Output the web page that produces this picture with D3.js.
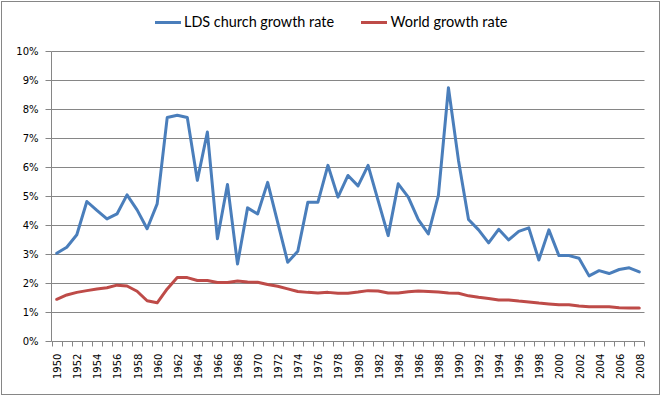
<!DOCTYPE html>
<html>
<head>
<meta charset="utf-8">
<script src="https://cdn.jsdelivr.net/npm/d3@7"></script>
<style>
html,body{margin:0;padding:0;background:#fff;}
svg{display:block;}
</style>
</head>
<body>
<svg id="chart" width="661" height="397"></svg>
<script>
const years = d3.range(1950, 2009);
const ldsGrowth = [
  3.02, 3.23, 3.66, 4.81, 4.50, 4.21, 4.38, 5.04, 4.52, 3.87,
  4.73, 7.71, 7.79, 7.71, 5.54, 7.21, 3.52, 5.40, 2.65, 4.59,
  4.38, 5.47, 4.09, 2.71, 3.09, 4.78, 4.78, 6.06, 4.96, 5.71,
  5.35, 6.06, 4.84, 3.63, 5.42, 4.96, 4.18, 3.69, 5.02, 8.74,
  6.23, 4.19, 3.83, 3.38, 3.85, 3.48, 3.78, 3.90, 2.79, 3.83,
  2.94, 2.94, 2.85, 2.24, 2.42, 2.32, 2.46, 2.52, 2.38
];
const worldGrowth = [
  1.43, 1.58, 1.67, 1.73, 1.79, 1.83, 1.92, 1.89, 1.71, 1.38,
  1.31, 1.79, 2.18, 2.18, 2.08, 2.08, 2.01, 2.01, 2.06, 2.03,
  2.02, 1.94, 1.88, 1.79, 1.70, 1.67, 1.65, 1.67, 1.64, 1.64,
  1.68, 1.73, 1.72, 1.65, 1.65, 1.69, 1.72, 1.70, 1.68, 1.65,
  1.64, 1.55, 1.50, 1.46, 1.41, 1.41, 1.37, 1.34, 1.30, 1.27,
  1.24, 1.24, 1.20, 1.17, 1.17, 1.17, 1.14, 1.13, 1.13
];
const yTicks = [0,1,2,3,4,5,6,7,8,9,10];
const xLabelYears = years.filter(y => (y - 1950) % 2 === 0);
const seriesNames = ["LDS church growth rate", "World growth rate"];
const seriesColors = ["#4A7EBB", "#BE4B48"];

const svg = d3.select("#chart");

// outer border
svg.append("rect").attr("x",1.5).attr("y",1.5).attr("width",658).attr("height",393)
  .attr("fill","#fff").attr("stroke","#868686").attr("stroke-width",1);

const x = d3.scaleBand().domain(years).range([51.7, 644.3]).padding(0);
const y = d3.scaleLinear().domain([0, 10]).range([340.7, 51.3]);
const cx = d => x(d) + x.bandwidth()/2;
const px = v => Math.round(v) + 0.5;

const gridColor = "#868686";

// gridlines
svg.append("g").selectAll("line").data(yTicks.slice(1)).join("line")
  .attr("x1", 51.5).attr("x2", 644.5)
  .attr("y1", d => px(y(d))).attr("y2", d => px(y(d)))
  .attr("stroke", gridColor).attr("stroke-width", 1);

// y axis
const yAxis = d3.axisLeft(y).tickValues(yTicks).tickSize(6).tickPadding(7)
  .tickFormat(d => d + "%");
const gy = svg.append("g").attr("transform","translate(51.5,0)").call(yAxis);
gy.select(".domain").attr("stroke", gridColor).attr("d", `M0,${px(y(10))}V${px(y(0))}`);
gy.selectAll(".tick").attr("transform", d => `translate(0,${px(y(d))})`);
gy.selectAll(".tick line").attr("stroke", gridColor);
gy.selectAll(".tick text").attr("font-family","DejaVu Sans").attr("font-size","10px").attr("fill","#000");

// x axis line
svg.append("line").attr("x1",51.5).attr("x2",644.5).attr("y1",px(y(0))).attr("y2",px(y(0)))
  .attr("stroke",gridColor);
// boundary ticks
const bounds = years.map(d => x(d)).concat([x.range()[1]]);
svg.append("g").selectAll("line").data(bounds).join("line")
  .attr("x1", d => px(d)).attr("x2", d => px(d))
  .attr("y1", px(y(0))).attr("y2", px(y(0)) + 5)
  .attr("stroke", gridColor);
// x labels
svg.append("g").selectAll("text").data(xLabelYears).join("text")
  .attr("transform", d => `translate(${cx(d)+1},379) rotate(-90)`)
  .attr("dy","0.35em")
  .attr("text-anchor","start")
  .attr("font-family","DejaVu Sans").attr("font-size","10px").attr("fill","#000")
  .text(d => d);

// lines
const line = d3.line().x((d,i) => cx(years[i])).y(d => y(d));
[ldsGrowth, worldGrowth].forEach((s, i) => {
  svg.append("path").datum(s).attr("d", line)
    .attr("fill","none").attr("stroke", seriesColors[i]).attr("stroke-width", 3)
    .attr("stroke-linejoin","round").attr("stroke-linecap","round");
});

// legend
const legendItems = [
  {name: seriesNames[0], color: seriesColors[0], x0: 155, tx: 184, w: 150},
  {name: seriesNames[1], color: seriesColors[1], x0: 361, tx: 390.5, w: 117}
];
legendItems.forEach(it => {
  svg.append("line").attr("x1", it.x0).attr("x2", it.x0 + 26).attr("y1", 22.5).attr("y2", 22.5)
    .attr("stroke", it.color).attr("stroke-width", 3);
  const t = svg.append("text").attr("x", it.tx).attr("y", 22).attr("dy","0.35em")
    .attr("font-family","Lato").attr("font-size","14px").attr("fill","#000").text(it.name);
  const len = t.node().getComputedTextLength();
  t.attr("font-size", (14 * it.w / len).toFixed(2) + "px");
});
</script>
</body>
</html>
